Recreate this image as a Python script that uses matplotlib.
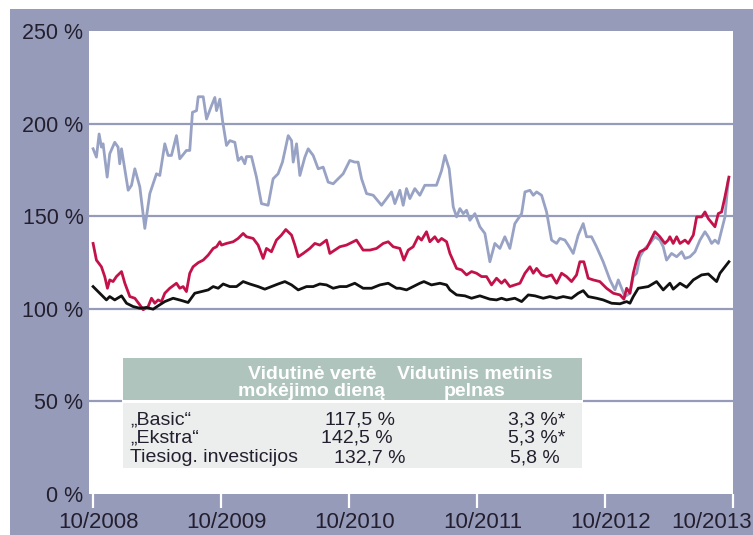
import matplotlib
matplotlib.use("Agg")
import matplotlib.pyplot as plt
import matplotlib.transforms as mtransforms
from matplotlib.patches import Rectangle

plt.rcParams['font.family'] = ['Liberation Sans', 'DejaVu Sans']

# time in decimal years, values in %
gray_t = [2008.752, 2008.778, 2008.799, 2008.817, 2008.830, 2008.862, 2008.882, 2008.921, 2008.947, 2008.960,
          2008.974, 2009.026, 2009.052, 2009.078, 2009.117, 2009.156, 2009.195, 2009.247, 2009.273, 2009.312,
          2009.338, 2009.364, 2009.403, 2009.429, 2009.481, 2009.507, 2009.528, 2009.560, 2009.573, 2009.612,
          2009.638, 2009.677, 2009.703, 2009.716, 2009.742, 2009.763, 2009.794, 2009.820, 2009.859, 2009.885,
          2009.911, 2009.937, 2009.950, 2009.989, 2010.028, 2010.067, 2010.119, 2010.158, 2010.197, 2010.231,
          2010.276, 2010.302, 2010.315, 2010.341, 2010.367, 2010.406, 2010.432, 2010.471, 2010.510, 2010.549,
          2010.588, 2010.627, 2010.666, 2010.705, 2010.757, 2010.796, 2010.822, 2010.849, 2010.888, 2010.940,
          2011.005, 2011.044, 2011.083, 2011.109,
          2011.148, 2011.174, 2011.200, 2011.226, 2011.265, 2011.304, 2011.343, 2011.434, 2011.474, 2011.500,
          2011.533, 2011.565, 2011.591, 2011.617, 2011.643, 2011.669, 2011.695, 2011.734, 2011.773, 2011.812,
          2011.851, 2011.890, 2011.929, 2011.968, 2012.007, 2012.046, 2012.099, 2012.125, 2012.164, 2012.190,
          2012.216, 2012.255, 2012.294, 2012.333, 2012.372, 2012.398, 2012.437, 2012.463, 2012.502, 2012.541,
          2012.580, 2012.606, 2012.645, 2012.684, 2012.736, 2012.789, 2012.828, 2012.854, 2012.880, 2012.906,
          2012.945, 2012.971, 2012.997, 2013.023, 2013.062, 2013.101, 2013.140, 2013.179, 2013.205, 2013.231,
          2013.270, 2013.310, 2013.349, 2013.375, 2013.414, 2013.453, 2013.492, 2013.531, 2013.557, 2013.583,
          2013.609, 2013.635, 2013.661, 2013.687, 2013.713]
gray_v = [186.4, 181.9, 194.4, 187.3, 189.1, 171.1, 183.7, 189.9, 187.3, 178.3,
          186.4, 164.0, 166.7, 175.6, 165.8, 143.4, 162.2, 172.9, 172.0, 189.1,
          182.8, 182.8, 193.5, 181.0, 185.5, 185.5, 206.1, 207.0, 214.5, 214.5,
          202.5, 209.7, 214.1, 207.0, 213.2, 201.6, 188.2, 190.8, 189.9, 180.1,
          181.9, 178.3, 182.2, 182.2, 171.1, 156.8, 155.9, 170.2, 172.9, 179.2,
          193.5, 190.8, 179.2, 189.1, 172.0, 181.9, 186.4, 182.8, 175.6, 176.5,
          168.4, 167.5, 170.2, 172.9, 180.1, 179.2, 179.2, 170.2, 162.2, 161.3,
          155.9, 159.5, 163.1, 156.8,
          164.0, 155.9, 164.9, 159.5, 164.9, 161.3, 166.7, 166.7, 174.7, 182.8,
          175.6, 155.0, 149.6, 154.1, 151.4, 153.2, 147.8, 151.4, 144.3, 140.7,
          125.4, 135.3, 132.6, 138.9, 132.6, 146.0, 151.4, 163.1, 164.0, 161.3,
          163.1, 161.3, 152.3, 137.1, 135.3, 138.0, 137.1, 134.4, 129.9, 139.8,
          146.0, 138.9, 138.9, 133.5, 125.4, 115.6, 110.2, 115.6, 111.1, 106.6,
          108.4, 117.4, 119.2, 128.1, 132.6, 135.3, 138.9, 137.1, 133.5, 126.3,
          129.9, 128.1, 130.8, 127.2, 128.1, 130.8, 137.1, 141.6, 138.9, 135.3,
          137.1, 135.3, 142.5, 149.6, 169.3]

red_t = [2008.752, 2008.778, 2008.817, 2008.843, 2008.864, 2008.882, 2008.908, 2008.934, 2008.974, 2009.000,
         2009.039, 2009.078, 2009.117, 2009.143, 2009.182, 2009.208, 2009.234, 2009.260, 2009.286, 2009.312,
         2009.351, 2009.403, 2009.429, 2009.455, 2009.481, 2009.507, 2009.533, 2009.573, 2009.612, 2009.651,
         2009.690, 2009.716, 2009.742, 2009.755, 2009.794, 2009.846, 2009.885, 2009.924, 2009.950, 2010.002,
         2010.041, 2010.080, 2010.106, 2010.145, 2010.184, 2010.223, 2010.257, 2010.302, 2010.328, 2010.354,
         2010.393, 2010.445, 2010.484, 2010.523, 2010.575, 2010.601, 2010.640, 2010.679, 2010.731, 2010.809,
         2010.861, 2010.914, 2010.966, 2011.018, 2011.057, 2011.096,
         2011.148, 2011.179, 2011.213, 2011.252, 2011.291, 2011.317, 2011.356, 2011.382, 2011.421, 2011.447,
         2011.474, 2011.513, 2011.539, 2011.591, 2011.630, 2011.669, 2011.708, 2011.747, 2011.786, 2011.825,
         2011.864, 2011.903, 2011.942, 2011.968, 2012.007, 2012.046, 2012.086, 2012.125, 2012.164, 2012.190,
         2012.216, 2012.255, 2012.294, 2012.333, 2012.372, 2012.411, 2012.450, 2012.489, 2012.528, 2012.554,
         2012.585, 2012.619, 2012.658, 2012.710, 2012.762, 2012.815, 2012.867, 2012.898, 2012.919, 2012.945,
         2012.971, 2012.997, 2013.023, 2013.075, 2013.140, 2013.179, 2013.218, 2013.244, 2013.257, 2013.283,
         2013.310, 2013.336, 2013.375, 2013.401, 2013.440, 2013.466, 2013.505, 2013.531, 2013.557, 2013.609,
         2013.635, 2013.661, 2013.687, 2013.718]
red_v = [135.3, 126.3, 122.7, 117.4, 111.1, 115.6, 114.7, 117.4, 120.1, 113.8,
         106.6, 105.7, 102.1, 99.5, 101.2, 105.7, 103.0, 104.8, 103.9, 108.4,
         111.1, 113.8, 111.1, 112.0, 109.3, 119.2, 122.7, 124.9, 126.3, 129.0,
         132.6, 133.5, 136.2, 134.4, 135.3, 136.2, 138.0, 140.7, 138.9, 138.0,
         134.4, 127.2, 132.6, 130.8, 137.1, 139.8, 142.8, 139.8, 134.4, 128.1,
         129.9, 132.6, 135.3, 134.4, 137.1, 129.9, 131.7, 133.5, 134.4, 137.1,
         131.7, 131.7, 132.6, 135.3, 136.2, 133.5,
         132.6, 126.3, 131.7, 133.5, 138.9, 137.1, 141.6, 136.2, 138.9, 136.2,
         138.0, 136.2, 129.9, 121.8, 121.0, 118.3, 120.1, 119.2, 117.4, 117.4,
         112.9, 116.5, 113.8, 115.6, 112.0, 112.9, 113.8, 119.2, 122.7, 119.2,
         121.8, 118.3, 117.4, 118.3, 113.8, 119.2, 117.4, 114.7, 118.3, 125.4,
         125.4, 116.5, 115.6, 114.7, 111.1, 108.4, 107.5, 105.2, 111.1, 108.4,
         119.2, 126.3, 130.8, 132.6, 141.6, 138.9, 135.3, 137.1, 138.9, 135.3,
         138.9, 135.3, 137.1, 135.3, 139.8, 149.6, 149.6, 152.3, 148.7, 144.3,
         151.4, 152.3, 160.4, 171.1]

black_t = [2008.752, 2008.804, 2008.856, 2008.882, 2008.921, 2008.974, 2009.013, 2009.065, 2009.117, 2009.169,
           2009.221, 2009.260, 2009.312, 2009.377, 2009.442, 2009.494, 2009.546, 2009.599, 2009.651, 2009.690,
           2009.729, 2009.768, 2009.820, 2009.872, 2009.924, 2009.976, 2010.041, 2010.093, 2010.145, 2010.197,
           2010.250, 2010.302, 2010.354, 2010.419, 2010.471, 2010.523, 2010.575, 2010.627, 2010.679, 2010.731,
           2010.796, 2010.861, 2010.927, 2010.992, 2011.057, 2011.122,
           2011.148, 2011.200, 2011.252, 2011.304, 2011.336, 2011.395, 2011.461, 2011.513, 2011.539, 2011.591,
           2011.656, 2011.708, 2011.773, 2011.851, 2011.903, 2011.942, 2011.981, 2012.046, 2012.099, 2012.151,
           2012.203, 2012.268, 2012.320, 2012.372, 2012.424, 2012.489, 2012.541, 2012.580, 2012.619, 2012.684,
           2012.736, 2012.802, 2012.867, 2012.919, 2012.945, 2012.971, 2013.010, 2013.088, 2013.153, 2013.205,
           2013.257, 2013.283, 2013.336, 2013.388, 2013.440, 2013.505, 2013.557, 2013.622, 2013.648, 2013.718]
black_v = [112.0, 108.4, 104.8, 106.6, 104.8, 107.0, 103.0, 101.2, 100.3, 100.7,
           99.8, 101.6, 103.9, 105.7, 104.5, 103.4, 108.4, 109.3, 110.2, 112.0,
           111.1, 113.4, 112.0, 112.0, 114.7, 113.4, 112.0, 110.6, 112.0, 113.4,
           114.7, 112.9, 110.2, 112.0, 112.0, 113.4, 112.9, 111.1, 112.0, 112.0,
           113.8, 111.1, 111.1, 112.9, 113.8, 111.1,
           111.1, 110.2, 112.0, 113.8, 114.7, 112.9, 113.8, 112.9, 110.2, 107.5,
           107.0, 105.7, 107.0, 105.2, 104.8, 105.7, 104.8, 105.7, 103.9, 107.5,
           107.0, 105.7, 106.6, 105.7, 106.6, 105.7, 108.4, 109.8, 106.6, 105.7,
           104.8, 103.0, 102.7, 103.9, 103.0, 106.6, 111.1, 112.0, 114.7, 110.2,
           113.8, 110.6, 113.8, 111.6, 115.6, 118.3, 118.8, 114.7, 119.2, 125.4]

x_ticks = [2008.75, 2009.75, 2010.75, 2011.75, 2012.75, 2013.75]
x_labels = ['10/2008', '10/2009', '10/2010', '10/2011', '10/2012', '10/2013']
y_ticks = [0, 50, 100, 150, 200, 250]
y_labels = ['0 %', '50 %', '100 %', '150 %', '200 %', '250 %']

# summary table
tbl_header = ['Vidutinė vertė\nmokėjimo dieną', 'Vidutinis metinis\npelnas']
tbl_names = ['„Basic“', '„Ekstra“', 'Tiesiog. investicijos']
tbl_value = ['117,5 %', '142,5 %', '132,7 %']
tbl_return = ['3,3 %*', '5,3 %*', '5,8 %']

W, H = 753, 535
BG = '#969BBA'
TXT = '#231F2E'


def fx(x):
    return x / W


def fy(y):
    return 1 - y / H


fig = plt.figure(figsize=(W / 100, H / 100), dpi=100, facecolor='white')
fig.add_artist(Rectangle((fx(10), 0), 1, fy(9), transform=fig.transFigure,
                         facecolor=BG, edgecolor='none', zorder=-1))

ax = fig.add_axes([fx(89), fy(494), fx(733) - fx(89), fy(31) - fy(494)])
ax.set_facecolor('white')
for s in ax.spines.values():
    s.set_visible(False)

for g in [50, 100, 150, 200]:
    ax.axhline(g, color=BG, lw=1.6, zorder=1)

ax.plot(gray_t, gray_v, color='#98A2C4', lw=2.0, zorder=3)
ax.plot(red_t, red_v, color='#C3124A', lw=2.0, zorder=4)
ax.plot(black_t, black_v, color='#111111', lw=2.0, zorder=5)

ax.set_xlim(2008.72, 2013.75)
ax.set_ylim(0, 250)
ax.set_xticks(x_ticks, x_labels)
ax.set_yticks(y_ticks, y_labels)
ax.tick_params(axis='x', length=10, width=1.6, color='white', pad=3,
               labelsize=16, labelcolor=TXT, direction='out')
ax.tick_params(axis='y', length=0, pad=4, labelsize=15.5, labelcolor=TXT)

# labels sit a little right of their ticks; the last one is pulled inside the frame
xlabs = ax.get_xticklabels()
for lab in xlabs[:-1]:
    lab.set_transform(lab.get_transform() + mtransforms.ScaledTranslation(0.06, 0, fig.dpi_scale_trans))
xlabs[-1].set_horizontalalignment('right')
xlabs[-1].set_transform(xlabs[-1].get_transform() + mtransforms.ScaledTranslation(0.19, 0, fig.dpi_scale_trans))

# table drawn over the plot
fig.add_artist(Rectangle((fx(122), fy(470)), fx(583) - fx(122), fy(356) - fy(470),
                         transform=fig.transFigure, facecolor='white', edgecolor='none', zorder=3))
fig.add_artist(Rectangle((fx(123), fy(400)), fx(582) - fx(123), fy(358) - fy(400),
                         transform=fig.transFigure, facecolor='#AFC4BD', edgecolor='none', zorder=4))
fig.add_artist(Rectangle((fx(123), fy(468)), fx(582) - fx(123), fy(403) - fy(468),
                         transform=fig.transFigure, facecolor='#EBEEEC', edgecolor='none', zorder=4))

fig.text(fx(312), fy(383), tbl_header[0], ha='center', va='center', color='white',
         fontsize=14, fontweight='bold', linespacing=0.95, zorder=5)
fig.text(fx(475), fy(383), tbl_header[1], ha='center', va='center', color='white',
         fontsize=14, fontweight='bold', linespacing=0.95, zorder=5)

row_y = [420, 438, 458]
val_x = [395, 393, 406]
ret_x = [565, 565, 560]
for i in range(3):
    fig.text(fx(130), fy(row_y[i]), tbl_names[i], ha='left', va='center',
             color=TXT, fontsize=14, zorder=5)
    fig.text(fx(val_x[i]), fy(row_y[i]), tbl_value[i], ha='right', va='center',
             color=TXT, fontsize=14, zorder=5)
    fig.text(fx(ret_x[i]), fy(row_y[i]), tbl_return[i], ha='right', va='center',
             color=TXT, fontsize=14, zorder=5)

fig.savefig('out.png', dpi=100)
